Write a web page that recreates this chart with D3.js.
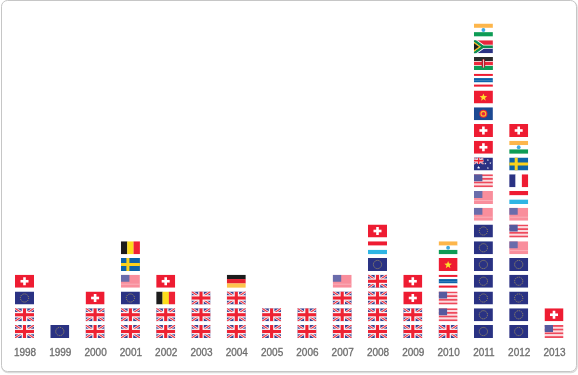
<!DOCTYPE html>
<html>
<head>
<meta charset="utf-8">
<script src="https://cdn.jsdelivr.net/npm/d3@7"></script>
<style>
  html, body { margin: 0; padding: 0; background: #fff; }
  svg { display: block; }
  .tick text { font-family: "Liberation Sans Narrow", "Liberation Sans", sans-serif; font-size: 10px; fill: #6e6e6e; stroke: #6e6e6e; stroke-width: 0.3px; }
</style>
</head>
<body>
<div id="chart"></div>
<script>
// years along the bottom
var years = ["1998","1999","2000","2001","2002","2003","2004","2005","2006","2007","2008","2009","2010","2011","2012","2013"];

// flags per year, listed bottom to top
var stack1998 = ["uk","uk","eu","ch"];
var stack1999 = ["eu"];
var stack2000 = ["uk","uk","ch"];
var stack2001 = ["uk","uk","eu","usPale","se","be"];
var stack2002 = ["uk","uk","be","ch"];
var stack2003 = ["uk","uk","uk"];
var stack2004 = ["uk","uk","uk","de"];
var stack2005 = ["uk","uk"];
var stack2006 = ["uk","uk"];
var stack2007 = ["uk","uk","uk","usPale"];
var stack2008 = ["uk","uk","uk","uk","eu","lu","ch"];
var stack2009 = ["uk","uk","ch","ch"];
var stack2010 = ["uk","us","us","th","vn","in"];
var stack2011 = ["eu","eu","eu","eu","eu","eu","eu","usPale","usPale","us","au","ch","ch","asean","vn","th","ke","za","in"];
var stack2012 = ["eu","eu","eu","eu","eu","usPale","us","usPale","lu","fr","se","in","ch"];
var stack2013 = ["us","ch"];

var stacks = [stack1998,stack1999,stack2000,stack2001,stack2002,stack2003,stack2004,stack2005,stack2006,stack2007,stack2008,stack2009,stack2010,stack2011,stack2012,stack2013];

var width = 578, height = 375;
var flagW = 19, flagH = 13;

var svg = d3.select("#chart").append("svg")
    .attr("width", width)
    .attr("height", height);

var defs = svg.append("defs");
defs.append("clipPath").attr("id", "flagClip")
  .append("rect").attr("width", flagW).attr("height", flagH);
// the original is a resampled bitmap, so everything is a little soft
defs.append("filter").attr("id", "soft")
    .attr("x", "-10%").attr("y", "-10%").attr("width", "120%").attr("height", "120%")
  .append("feGaussianBlur").attr("stdDeviation", 0.4);

// card, the second outline gives the heavier bottom right edge
svg.append("rect")
    .attr("x", 2).attr("y", 1.5)
    .attr("width", 575).attr("height", 371)
    .attr("rx", 6)
    .attr("fill", "none")
    .attr("stroke", "#dcdcdc")
    .attr("stroke-width", 1.5);
svg.append("rect")
    .attr("x", 1.5).attr("y", 0.5)
    .attr("width", 575).attr("height", 371)
    .attr("rx", 6)
    .attr("fill", "#fff")
    .attr("stroke", "#c6c6c6");

var x = d3.scalePoint().domain(years).range([24.5, 554]);
var y = d3.scaleLinear().domain([0, 18]).range([331.5, 30]);

// little drawing helpers, all in flag coordinates
function box(g, bx, by, bw, bh, fill){
  g.append("rect").attr("x", bx).attr("y", by).attr("width", bw).attr("height", bh).attr("fill", fill);
}
function hbands(g, cols){
  var h = flagH/cols.length;
  cols.forEach(function(c, i){ box(g, 0, i*h, flagW, h + 0.1, c); });
}
function vbands(g, cols){
  var w = flagW/cols.length;
  cols.forEach(function(c, i){ box(g, i*w, 0, w + 0.1, flagH, c); });
}
function star(g, cx, cy, r, fill){
  var pts = d3.range(10).map(function(i){
    var a = -Math.PI/2 + i*Math.PI/5, q = i%2 ? r*0.42 : r;
    return [cx + q*Math.cos(a), cy + q*Math.sin(a)].join(",");
  });
  g.append("polygon").attr("points", pts.join(" ")).attr("fill", fill);
}
function union(g, w, h){
  box(g, 0, 0, w, h, "#3d4390");
  var d = "M0,0L"+w+","+h+"M"+w+",0L0,"+h;
  g.append("path").attr("d", d).attr("stroke", "#f8f4f6").attr("stroke-width", h*0.2);
  g.append("path").attr("d", d).attr("stroke", "#ee3445").attr("stroke-width", h*0.09);
  var t = h*0.24;
  box(g, w/2 - t*0.9, 0, t*1.8, h, "#faf6f8");
  box(g, 0, h/2 - t*0.9, w, t*1.8, "#faf6f8");
  box(g, w/2 - t/2, 0, t, h, "#ee2233");
  box(g, 0, h/2 - t/2, w, t, "#ee2233");
}

var draw = {
  uk: function(g){ union(g, flagW, flagH); },
  eu: function(g){
    box(g, 0, 0, flagW, flagH, "#2b3383");
    g.append("circle").attr("cx", flagW/2).attr("cy", flagH/2).attr("r", 4.1)
      .attr("fill", "none").attr("stroke", "#a8985c").attr("stroke-width", 0.9).attr("stroke-dasharray", "1.1 1");
  },
  ch: function(g){
    box(g, 0, 0, flagW, flagH, "#ee1c33");
    box(g, flagW/2 - 1.3, flagH/2 - 4, 2.6, 8, "#fff");
    box(g, flagW/2 - 4, flagH/2 - 1.3, 8, 2.6, "#fff");
  },
  us: function(g){
    hbands(g, ["#ee4a5c","#fbdce0","#ee4a5c","#fbdce0","#ee4a5c","#fbdce0","#ee4a5c"]);
    box(g, 0, 0, 8.5, 7, "#575a9e");
  },
  usPale: function(g){
    box(g, 0, 0, flagW, flagH, "#f98e9c");
    box(g, 0, 9, flagW, 0.8, "#fbb8c0");
    box(g, 0, 0, 8.5, 7, "#6a6cab");
  },
  se: function(g){
    box(g, 0, 0, flagW, flagH, "#0d63a8");
    box(g, 5.5, 0, 3, flagH, "#f9d21c");
    box(g, 0, 5, flagW, 3, "#f9d21c");
  },
  be: function(g){ vbands(g, ["#1d1d1b","#fbdc1e","#ef2436"]); },
  de: function(g){ hbands(g, ["#1d1d1b","#e6202f","#fdc44c"]); },
  lu: function(g){ hbands(g, ["#ee1c33","#ffffff","#2fb5e4"]); },
  fr: function(g){ vbands(g, ["#2b3383","#ffffff","#ee1c33"]); },
  in: function(g){
    hbands(g, ["#fdb64c","#ffffff","#0d9c54"]);
    g.append("circle").attr("cx", flagW/2).attr("cy", flagH/2).attr("r", 1.9).attr("fill", "#3fa9e0");
  },
  th: function(g){
    hbands(g, ["#ee1c33","#ffffff","#0f64ab","#0f64ab","#ffffff","#ee1c33"]);
  },
  vn: function(g){
    box(g, 0, 0, flagW, flagH, "#ee1c33");
    star(g, flagW/2, flagH/2 + 0.4, 4, "#fde02c");
  },
  asean: function(g){
    box(g, 0, 0, flagW, flagH, "#1f4a92");
    g.append("circle").attr("cx", flagW/2).attr("cy", flagH/2).attr("r", 4).attr("fill", "#e8263a");
    g.append("circle").attr("cx", flagW/2).attr("cy", flagH/2).attr("r", 2.4).attr("fill", "none").attr("stroke", "#f6c22c").attr("stroke-width", 1.1);
  },
  ke: function(g){
    hbands(g, ["#2a2a2a","#ee2a3c","#0d9c54"]);
    box(g, 0, 4.1, flagW, 0.7, "#fff");
    box(g, 0, 8.2, flagW, 0.7, "#fff");
    g.append("ellipse").attr("cx", flagW/2).attr("cy", flagH/2).attr("rx", 1.9).attr("ry", 4.4).attr("fill", "#b5222e");
    box(g, flagW/2 - 0.4, 2.4, 0.8, 8.2, "#eee");
  },
  za: function(g){
    box(g, 0, 0, flagW, flagH/2, "#e8283c");
    box(g, 0, flagH/2, flagW, flagH/2, "#2b3383");
    g.append("path").attr("d", "M0,0L9,6.5L19,6.5M0,13L9,6.5").attr("fill", "none").attr("stroke", "#fff").attr("stroke-width", 4.2);
    g.append("path").attr("d", "M0,0L9,6.5L19,6.5M0,13L9,6.5").attr("fill", "none").attr("stroke", "#0d8c50").attr("stroke-width", 2.6);
    g.append("path").attr("d", "M0,1.5L7,6.5L0,11.5Z").attr("fill", "#f4b81c");
    g.append("path").attr("d", "M0,3L5,6.5L0,10Z").attr("fill", "#1d1d1b");
  },
  au: function(g){
    box(g, 0, 0, flagW, flagH, "#2b3383");
    union(g, 9.5, 6.5);
    star(g, 4.7, 10, 1.7, "#fff");
    star(g, 14, 2.5, 1.1, "#fff");
    star(g, 11.5, 6, 1.1, "#fff");
    star(g, 16.5, 5.5, 1.1, "#fff");
    star(g, 14, 10.5, 1.1, "#fff");
  }
};

// flag stacks
var plot = svg.append("g").attr("filter", "url(#soft)");

var columns = plot.selectAll("g.year")
    .data(stacks)
  .enter().append("g")
    .attr("class", "year")
    .attr("transform", function(d, i){ return "translate(" + (x(years[i]) - flagW/2) + ",0)"; });

columns.selectAll("g.flag")
    .data(function(d){ return d; })
  .enter().append("g")
    .attr("class", "flag")
    .attr("clip-path", "url(#flagClip)")
    .attr("transform", function(d, i){ return "translate(0," + (y(i) - flagH/2) + ")"; })
    .each(function(d){ draw[d](d3.select(this)); });

// year labels
var xAxis = d3.axisBottom(x).tickSize(0).tickPadding(0);
svg.append("g")
    .attr("transform", "translate(0,349)")
    .attr("filter", "url(#soft)")
    .call(xAxis)
    .call(function(g){ g.select(".domain").remove(); });
</script>
</body>
</html>
